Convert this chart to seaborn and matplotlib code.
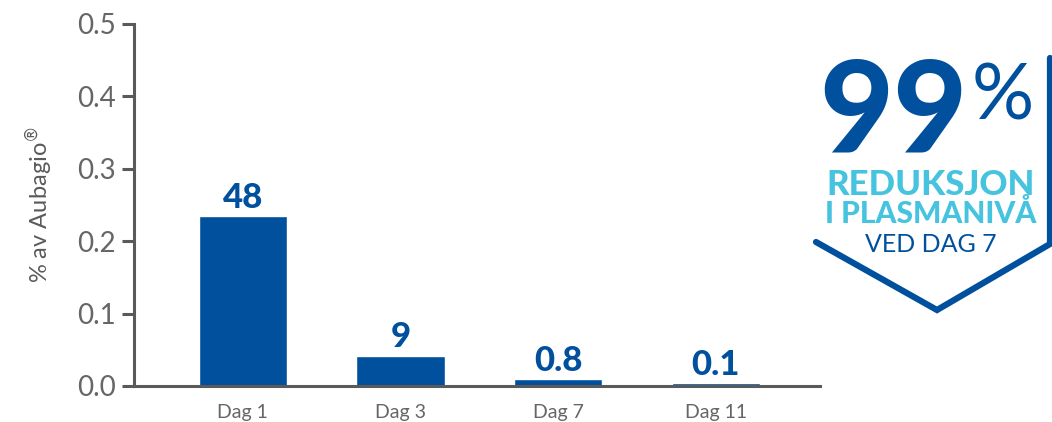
import pandas as pd
import matplotlib.pyplot as plt
import seaborn as sns

# Data
days = ["Dag 1", "Dag 3", "Dag 7", "Dag 11"]
levels = [0.235, 0.042, 0.010, 0.0045]
labels = ["48", "9", "0.8", "0.1"]
yticks = [0.0, 0.1, 0.2, 0.3, 0.4, 0.5]

blue = "#00509E"
cyan = "#45C3DF"
grey = "#5A5A5A"

sns.set_style("white")
plt.rcParams["font.family"] = ["Lato", "DejaVu Sans"]
plt.rcParams["mathtext.fontset"] = "dejavusans"

df = pd.DataFrame({"day": days, "level": levels})

fig = plt.figure(figsize=(10.52, 4.22), dpi=100)
ax = fig.add_axes([134 / 1052, 36 / 422, 686 / 1052, 362 / 422])

sns.barplot(data=df, x="day", y="level", color=blue, saturation=1,
            width=0.56, ax=ax)

# value labels above the bars
for i, (v, lab) in enumerate(zip(levels, labels)):
    ax.text(i, v + 0.003, lab, ha="center", va="bottom", color=blue,
            fontsize=25, fontweight="black")

ax.set_ylim(0, 0.5)
ax.set_xlim(-0.69, 3.66)
ax.set_yticks(yticks)
ax.set_yticklabels([f"{t:.1f}" for t in yticks])
ax.set_xlabel("")
ax.set_ylabel(r"% av Aubagio$^{\circledR}$", fontsize=17, color=grey,
              labelpad=16)

sns.despine(ax=ax)
for s in ["left", "bottom"]:
    ax.spines[s].set_color(grey)
    ax.spines[s].set_linewidth(2.2)
ax.tick_params(axis="y", length=9, width=2.2, color=grey, labelsize=20,
               labelcolor="#666666", left=True, pad=4)
ax.tick_params(axis="x", length=0, labelsize=14, labelcolor="#666666", pad=13)

# badge on the right, drawn on a full-figure overlay in pixel units
ov = fig.add_axes([0, 0, 1, 1])
ov.set_xlim(0, 1052)
ov.set_ylim(422, 0)
ov.axis("off")
ov.plot([816, 937, 1050, 1050], [242, 310, 244, 58], color=blue, lw=4.5,
        solid_capstyle="round", solid_joinstyle="miter")
ov.text(893, 152, "99", ha="center", va="baseline", color=blue,
        fontsize=92, fontweight="black")
ov.text(1003, 120, "%", ha="center", va="baseline", color=blue,
        fontsize=56, fontweight="normal")
ov.text(931, 195, "REDUKSJON", ha="center", va="baseline", color=cyan,
        fontsize=25, fontweight="black")
ov.text(931, 223, "I PLASMANIVÅ", ha="center", va="baseline", color=cyan,
        fontsize=21.5, fontweight="black")
ov.text(931, 252, "VED DAG 7", ha="center", va="baseline", color=blue,
        fontsize=18)

fig.savefig("out.png", dpi=100)
